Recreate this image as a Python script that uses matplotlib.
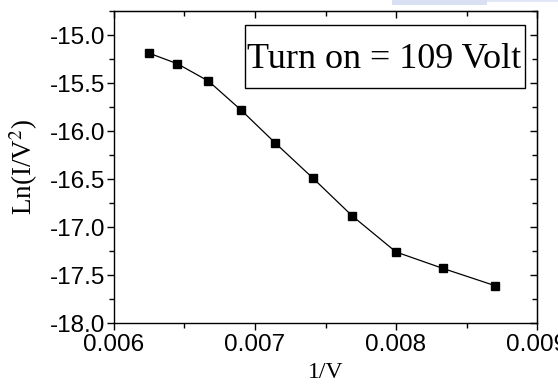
import matplotlib
matplotlib.use("Agg")
import matplotlib.pyplot as plt
from matplotlib.patches import Rectangle
from matplotlib.ticker import MultipleLocator

plt.rcParams["mathtext.fontset"] = "stix"

# 1/V values and Ln(I/V^2)
inv_v = [0.00625, 0.00645, 0.00667, 0.00690, 0.00714,
         0.00741, 0.00769, 0.00800, 0.00833, 0.00870]
ln_iv2 = [-15.19, -15.30, -15.48, -15.78, -16.12,
          -16.49, -16.885, -17.26, -17.43, -17.61]
x_ticks = [0.006, 0.007, 0.008, 0.009]
x_labels = ["0.006", "0.007", "0.008", "0.009"]
y_ticks = [-18.0, -17.5, -17.0, -16.5, -16.0, -15.5, -15.0]
note = "Turn on = 109 Volt"

W, H = 558, 385
fig = plt.figure(figsize=(W / 100, H / 100), dpi=100)
ax = fig.add_axes([114 / W, 1 - 323 / H, (537 - 114) / W, (323 - 11) / H])

ax.plot(inv_v, ln_iv2, color="black", lw=0.9, marker="s", ms=5.2,
        markerfacecolor="black", markeredgecolor="black")

ax.set_xlim(0.006, 0.009)
ax.set_ylim(-18.0, -14.75)
ax.set_xticks(x_ticks)
ax.set_xticklabels(x_labels)
ax.set_yticks(y_ticks)
ax.set_yticklabels(["%.1f" % v for v in y_ticks])
ax.xaxis.set_minor_locator(MultipleLocator(0.0005))
ax.yaxis.set_minor_locator(MultipleLocator(0.25))

ax.tick_params(which="both", direction="out", top=False, right=False,
               labelsize=17.5, width=1)
ax.tick_params(axis="x", pad=3)
ax.tick_params(axis="y", pad=1)
ax.tick_params(which="major", length=5)
ax.tick_params(which="minor", length=3.5)
for lab in ax.get_xticklabels() + ax.get_yticklabels():
    lab.set_family("Liberation Sans")

# inward ticks on top and right, no labels
top = ax.secondary_xaxis("top")
top.set_xticks(x_ticks)
top.xaxis.set_minor_locator(MultipleLocator(0.0005))
top.tick_params(which="both", direction="in", labeltop=False, width=1)
top.tick_params(which="major", length=5)
top.tick_params(which="minor", length=3.5)
right = ax.secondary_yaxis("right")
right.set_yticks(y_ticks)
right.yaxis.set_minor_locator(MultipleLocator(0.25))
right.tick_params(which="both", direction="in", labelright=False, width=1)
right.tick_params(which="major", length=5)
right.tick_params(which="minor", length=3.5)

for sp in ax.spines.values():
    sp.set_linewidth(1)

ax.set_xlabel("1/V", family="Liberation Serif", fontsize=17, va="center")
ax.set_ylabel("Ln(I/V$^2$)", family="Liberation Serif", fontsize=19.5,
              va="center")
ax.yaxis.set_label_coords(-(114 - 24) / (537 - 114), 0.5)
ax.xaxis.set_label_coords(0.5, -(372 - 323) / (323 - 11))

# annotation box
fig.patches.append(Rectangle((245 / W, 1 - 88 / H), 280 / W, 63 / H,
                             transform=fig.transFigure, fill=True,
                             facecolor="white", edgecolor="black", lw=1,
                             zorder=5))
fig.text(384 / W, 1 - 59 / H, note, family="Liberation Serif", fontsize=26,
         ha="center", va="center", zorder=6)

# faint remains of a logo at the top edge
fig.patches.append(Rectangle((392 / W, 1 - 5 / H), 95 / W, 5 / H,
                             transform=fig.transFigure, facecolor="#c9d4f0",
                             edgecolor="none", alpha=0.7))
fig.patches.append(Rectangle((487 / W, 1 - 2 / H), 71 / W, 2 / H,
                             transform=fig.transFigure, facecolor="#d6def4",
                             edgecolor="none", alpha=0.7))

fig.savefig("out.png", dpi=100)
